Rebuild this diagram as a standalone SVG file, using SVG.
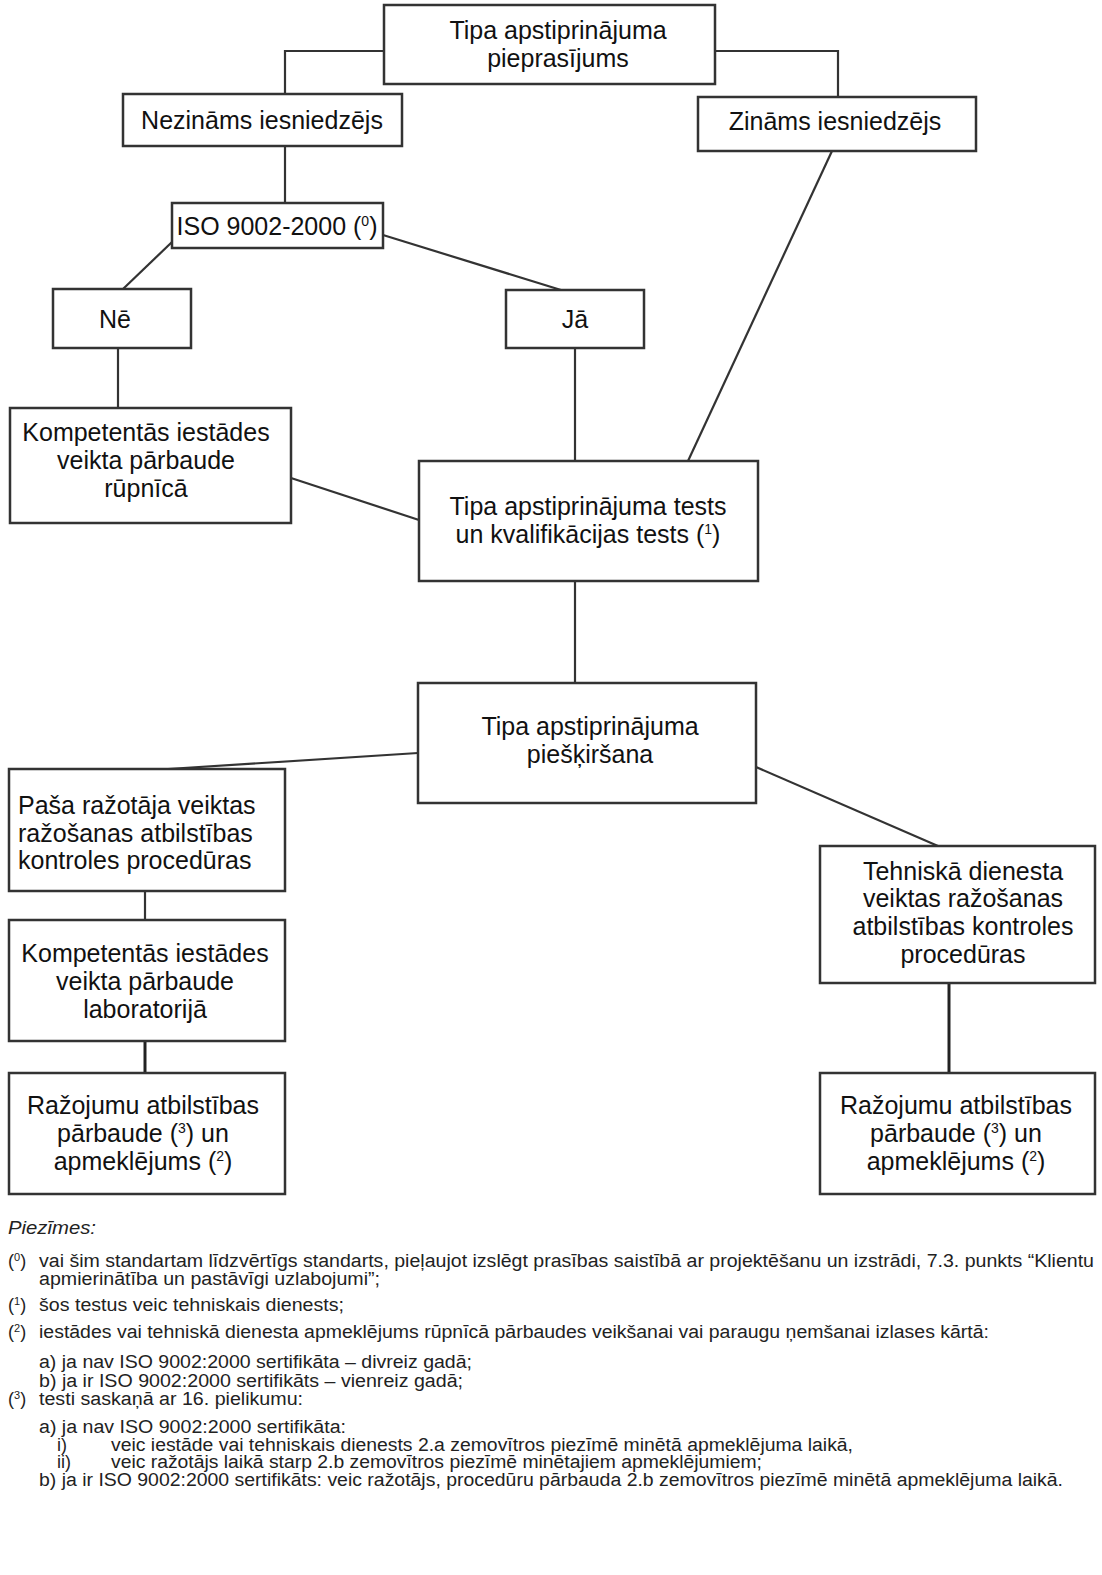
<svg xmlns="http://www.w3.org/2000/svg" width="1102" height="1575" viewBox="0 0 1102 1575">
<style>
.box{fill:#fff;stroke:#333;stroke-width:2.5}
.ln{fill:none;stroke:#333;stroke-width:2.2}
.lt{fill:none;stroke:#222;stroke-width:3}
.t{font-family:"Liberation Sans",Arial,sans-serif;font-size:25px;fill:#111;text-anchor:middle}
.tl{text-anchor:start}
.n{font-family:"Liberation Sans",Arial,sans-serif;font-size:18px;fill:#222}
.s{font-size:14px}
.sn{font-size:11px}
</style>
<rect width="1102" height="1575" fill="#fff"/>
<g id="connectors">
<polyline class="ln" points="384,51 285,51 285,94"/>
<polyline class="ln" points="715,51 838,51 838,97"/>
<line class="ln" x1="285" y1="146" x2="285" y2="203"/>
<line class="ln" x1="172" y1="242" x2="123" y2="289"/>
<line class="ln" x1="383" y1="235" x2="561" y2="290"/>
<line class="ln" x1="832" y1="151" x2="688" y2="461"/>
<line class="ln" x1="118" y1="348" x2="118" y2="408"/>
<line class="ln" x1="575" y1="348" x2="575" y2="461"/>
<line class="ln" x1="291" y1="478" x2="419" y2="520"/>
<line class="ln" x1="575" y1="581" x2="575" y2="683"/>
<line class="ln" x1="418" y1="753" x2="168" y2="769"/>
<line class="ln" x1="756" y1="767" x2="938" y2="846"/>
<line class="ln" x1="145" y1="891" x2="145" y2="920"/>
<line class="lt" x1="145" y1="1041" x2="145" y2="1073"/>
<line class="lt" x1="949" y1="983" x2="949" y2="1073"/>
</g>
<g id="n-request">
<rect class="box" x="384" y="5" width="331" height="79"/>
<text class="t" x="558" y="39">Tipa apstiprinājuma</text>
<text class="t" x="558" y="67">pieprasījums</text>
</g>
<g id="n-unknown">
<rect class="box" x="123" y="94" width="279" height="52"/>
<text class="t" x="262" y="129">Nezināms iesniedzējs</text>
</g>
<g id="n-known">
<rect class="box" x="698" y="97" width="278" height="54"/>
<text class="t" x="835" y="130">Zināms iesniedzējs</text>
</g>
<g id="n-iso">
<rect class="box" x="172" y="203" width="211" height="45"/>
<text class="t" x="277" y="235">ISO 9002-2000 (<tspan class="s" dy="-9">0</tspan><tspan dy="9">)</tspan></text>
</g>
<g id="n-no">
<rect class="box" x="53" y="289" width="138" height="59"/>
<text class="t" x="115" y="328">Nē</text>
</g>
<g id="n-yes">
<rect class="box" x="506" y="290" width="138" height="58"/>
<text class="t" x="575" y="328">Jā</text>
</g>
<g id="n-factory">
<rect class="box" x="10" y="408" width="281" height="115"/>
<text class="t" x="146" y="441">Kompetentās iestādes</text>
<text class="t" x="146" y="469">veikta pārbaude</text>
<text class="t" x="146" y="497">rūpnīcā</text>
</g>
<g id="n-tests">
<rect class="box" x="419" y="461" width="339" height="120"/>
<text class="t" x="588" y="515">Tipa apstiprinājuma tests</text>
<text class="t" x="588" y="543">un kvalifikācijas tests (<tspan class="s" dy="-9">1</tspan><tspan dy="9">)</tspan></text>
</g>
<g id="n-grant">
<rect class="box" x="418" y="683" width="338" height="120"/>
<text class="t" x="590" y="735">Tipa apstiprinājuma</text>
<text class="t" x="590" y="763">piešķiršana</text>
</g>
<g id="n-manufacturer">
<rect class="box" x="9" y="769" width="276" height="122"/>
<text class="t tl" x="18" y="814">Paša ražotāja veiktas</text>
<text class="t tl" x="18" y="842">ražošanas atbilstības</text>
<text class="t tl" x="18" y="869">kontroles procedūras</text>
</g>
<g id="n-lab">
<rect class="box" x="9" y="920" width="276" height="121"/>
<text class="t" x="145" y="962">Kompetentās iestādes</text>
<text class="t" x="145" y="990">veikta pārbaude</text>
<text class="t" x="145" y="1018">laboratorijā</text>
</g>
<g id="n-techservice">
<rect class="box" x="820" y="846" width="275" height="137"/>
<text class="t" x="963" y="880">Tehniskā dienesta</text>
<text class="t" x="963" y="907">veiktas ražošanas</text>
<text class="t" x="963" y="935">atbilstības kontroles</text>
<text class="t" x="963" y="963">procedūras</text>
</g>
<g id="n-check-left">
<rect class="box" x="9" y="1073" width="276" height="121"/>
<text class="t" x="143" y="1114">Ražojumu atbilstības</text>
<text class="t" x="143" y="1142">pārbaude (<tspan class="s" dy="-9">3</tspan><tspan dy="9">) un</tspan></text>
<text class="t" x="143" y="1170">apmeklējums (<tspan class="s" dy="-9">2</tspan><tspan dy="9">)</tspan></text>
</g>
<g id="n-check-right">
<rect class="box" x="820" y="1073" width="275" height="121"/>
<text class="t" x="956" y="1114">Ražojumu atbilstības</text>
<text class="t" x="956" y="1142">pārbaude (<tspan class="s" dy="-9">3</tspan><tspan dy="9">) un</tspan></text>
<text class="t" x="956" y="1170">apmeklējums (<tspan class="s" dy="-9">2</tspan><tspan dy="9">)</tspan></text>
</g>
<g id="notes" class="n">
<text x="8" y="1234" font-style="italic" textLength="88" lengthAdjust="spacingAndGlyphs">Piezīmes:</text>
<text x="8" y="1267">(<tspan class="sn" dy="-6">0</tspan><tspan dy="6">)</tspan></text>
<text x="39" y="1267" textLength="1055" lengthAdjust="spacingAndGlyphs">vai šim standartam līdzvērtīgs standarts, pieļaujot izslēgt prasības saistībā ar projektēšanu un izstrādi, 7.3. punkts “Klientu</text>
<text x="39" y="1285" textLength="341" lengthAdjust="spacingAndGlyphs">apmierinātība un pastāvīgi uzlabojumi”;</text>
<text x="8" y="1311">(<tspan class="sn" dy="-6">1</tspan><tspan dy="6">)</tspan></text>
<text x="39" y="1311" textLength="305" lengthAdjust="spacingAndGlyphs">šos testus veic tehniskais dienests;</text>
<text x="8" y="1338">(<tspan class="sn" dy="-6">2</tspan><tspan dy="6">)</tspan></text>
<text x="39" y="1338" textLength="950" lengthAdjust="spacingAndGlyphs">iestādes vai tehniskā dienesta apmeklējums rūpnīcā pārbaudes veikšanai vai paraugu ņemšanai izlases kārtā:</text>
<text x="39" y="1368" textLength="433" lengthAdjust="spacingAndGlyphs">a) ja nav ISO 9002:2000 sertifikāta – divreiz gadā;</text>
<text x="39" y="1387" textLength="424" lengthAdjust="spacingAndGlyphs">b) ja ir ISO 9002:2000 sertifikāts – vienreiz gadā;</text>
<text x="8" y="1405">(<tspan class="sn" dy="-6">3</tspan><tspan dy="6">)</tspan></text>
<text x="39" y="1405" textLength="264" lengthAdjust="spacingAndGlyphs">testi saskaņā ar 16. pielikumu:</text>
<text x="39" y="1433" textLength="307" lengthAdjust="spacingAndGlyphs">a) ja nav ISO 9002:2000 sertifikāta:</text>
<text x="57" y="1451">i)</text>
<text x="111" y="1451" textLength="742" lengthAdjust="spacingAndGlyphs">veic iestāde vai tehniskais dienests 2.a zemovītros piezīmē minētā apmeklējuma laikā,</text>
<text x="57" y="1468">ii)</text>
<text x="111" y="1468" textLength="651" lengthAdjust="spacingAndGlyphs">veic ražotājs laikā starp 2.b zemovītros piezīmē minētajiem apmeklējumiem;</text>
<text x="39" y="1486" textLength="1024" lengthAdjust="spacingAndGlyphs">b) ja ir ISO 9002:2000 sertifikāts: veic ražotājs, procedūru pārbauda 2.b zemovītros piezīmē minētā apmeklējuma laikā.</text>
</g>
</svg>
